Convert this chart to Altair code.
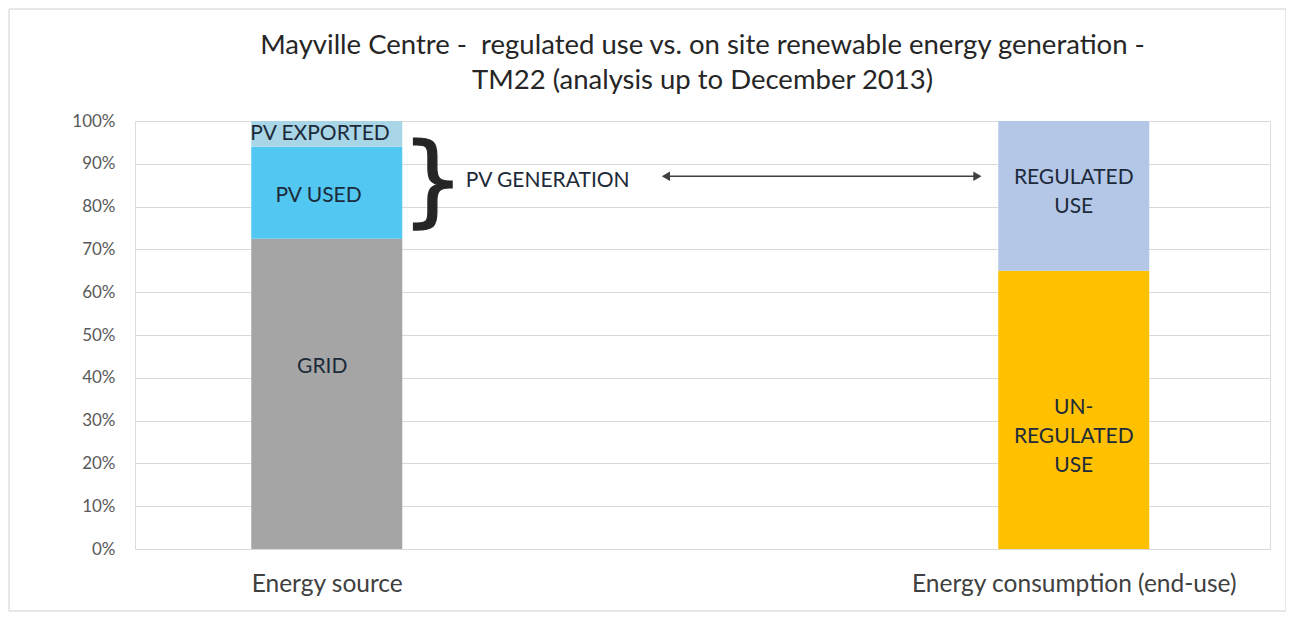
import altair as alt
import pandas as pd

categories = ["Energy source", "Energy consumption (end-use)"]
cat_pos = [0, 1]

# stacked segments
seg_cat = [0, 0, 0, 1, 1]
seg_name = ["GRID", "PV USED", "PV EXPORTED", "UN-REGULATED USE", "REGULATED USE"]
seg_value = [72.5, 21.5, 6.0, 65.0, 35.0]
seg_order = [1, 2, 3, 1, 2]
seg_colors = ["#a5a5a5", "#52c7f2", "#a9d6e6", "#ffc000", "#b4c7e7"]

# in-bar label text, which bar, small horizontal nudge, and where their first line sits
lab_cat = [0, 0, 0, 1, 1]
lab_dx = [-0.009, -0.011, -0.006, 0.0, 0.0]
lab_text = [["PV EXPORTED"], ["PV USED"], ["GRID"], ["REGULATED", "USE"], ["UN-", "REGULATED", "USE"]]
lab_y = [97.0, 82.5, 42.6, 86.7, 32.9]

# annotations
brace_x, brace_y = [0.142], [85.3]
gen_x, gen_y, gen_text = [0.186], [86.0], ["PV GENERATION"]
arrow_x1, arrow_x2, arrow_y = [0.454], [0.871], [87.1]

y_ticks = list(range(0, 101, 10))

segs = pd.DataFrame({"cat": seg_cat, "name": seg_name, "value": seg_value, "order": seg_order})
labs = pd.DataFrame({"x": [c + d for c, d in zip(lab_cat, lab_dx)], "text": lab_text, "y": lab_y})

FONT = "Lato"
xscale = alt.Scale(domain=[-0.25, 1.256], nice=False, zero=False)
yscale = alt.Scale(domain=[0, 100], nice=False)

label_expr = "datum.value == 0 ? '%s' : '%s'" % (categories[0], categories[1])

bars = alt.Chart(segs).mark_bar(size=151).encode(
    x=alt.X("cat:Q", scale=xscale,
            axis=alt.Axis(values=cat_pos, labelExpr=label_expr, title=None, grid=False,
                          ticks=False, domain=False, labelFontSize=24.5, labelColor="#404040",
                          labelPadding=23, labelFont=FONT, labelLimit=0)),
    y=alt.Y("sum(value):Q", scale=yscale, stack="zero",
            axis=alt.Axis(values=y_ticks, labelExpr="datum.value + '%'", title=None,
                          ticks=False, domain=False, gridColor="#d9d9d9", labelFontSize=17,
                          labelColor="#595959", labelPadding=20, labelFont=FONT)),
    color=alt.Color("name:N", scale=alt.Scale(domain=seg_name, range=seg_colors), legend=None),
    order=alt.Order("order:Q", sort="ascending"),
)

texts = alt.Chart(labs).mark_text(fontSize=21, color="#1c2a3a", font=FONT, lineHeight=29,
                                  baseline="middle").encode(
    x=alt.X("x:Q", scale=xscale), y=alt.Y("y:Q", scale=yscale), text="text")

brace = alt.Chart(pd.DataFrame({"x": brace_x, "y": brace_y, "t": ["}"]})).mark_text(
    fontSize=100, color="#262626", font="DejaVu Sans", stroke="#262626", strokeWidth=1.2,
    baseline="middle").encode(
    x=alt.X("x:Q", scale=xscale), y=alt.Y("y:Q", scale=yscale), text="t")

gen = alt.Chart(pd.DataFrame({"x": gen_x, "y": gen_y, "t": gen_text})).mark_text(
    fontSize=21, color="#1c2a3a", font=FONT, align="left", baseline="middle").encode(
    x=alt.X("x:Q", scale=xscale), y=alt.Y("y:Q", scale=yscale), text="t")

arrow_df = pd.DataFrame({"x1": arrow_x1, "x2": arrow_x2, "y": arrow_y})
arrow = alt.Chart(arrow_df).mark_rule(color="#404040", strokeWidth=1.5).encode(
    x=alt.X("x1:Q", scale=xscale), x2="x2:Q", y=alt.Y("y:Q", scale=yscale))
head_l = alt.Chart(arrow_df).mark_point(shape="triangle-left", filled=True, size=90,
                                        color="#404040", opacity=1).encode(
    x=alt.X("x1:Q", scale=xscale), y=alt.Y("y:Q", scale=yscale))
head_r = alt.Chart(arrow_df).mark_point(shape="triangle-right", filled=True, size=90,
                                        color="#404040", opacity=1).encode(
    x=alt.X("x2:Q", scale=xscale), y=alt.Y("y:Q", scale=yscale))

frame = alt.Chart(pd.DataFrame({"a": [0]})).mark_rect(fill=None, stroke="#d0d0d0",
                                                     strokeWidth=1).encode(
    x=alt.value(-126), x2=alt.value(1151), y=alt.value(-112), y2=alt.value(490))

chart = alt.layer(frame, bars, texts, brace, gen, arrow, head_l, head_r).properties(
    width=1135, height=428,
    autosize=alt.AutoSizeParams(type="none"),
    padding={"left": 127, "top": 113, "right": 16, "bottom": 70},
    title=alt.TitleParams(
        ["Mayville Centre -\u00a0 regulated use vs. on site renewable energy generation -",
         "TM22 (analysis up to December 2013)"],
        fontSize=27.5, font=FONT, fontWeight="normal", color="#262626", anchor="middle",
        lineHeight=35, offset=0, dy=86),
).configure_view(stroke=None).configure(background="white")

chart.save("out.html", embed_options={"renderer": "svg", "actions": False})
